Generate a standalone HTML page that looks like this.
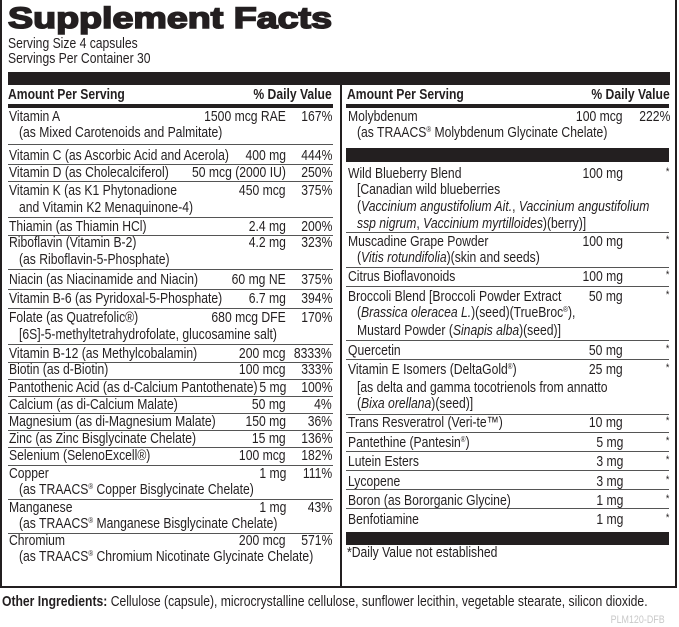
<!DOCTYPE html>
<html><head><meta charset="utf-8"><style>
html,body{margin:0;padding:0;background:#fff;}
#c{position:relative;width:679px;height:627px;overflow:hidden;font-family:"Liberation Sans",sans-serif;color:#231f20;}
.t,.r{position:absolute;font-size:15px;line-height:16px;white-space:nowrap;}
.t{transform:scaleX(0.81);transform-origin:left center;}
.r{transform:scaleX(0.81);transform-origin:right center;text-align:right;}
.b{font-weight:bold;}
.h{position:absolute;background:#231f20;}
.ln{position:absolute;height:1px;background:#555;}
.L{left:8px;width:325px;}
.R{left:346px;width:323px;}
i{font-style:italic;}
sup{font-size:8px;vertical-align:5px;line-height:0;}
</style></head><body><div id="c">
<svg style="position:absolute;left:0;top:0" width="679" height="40"><text x="8" y="28" font-family="Liberation Sans" font-weight="bold" font-size="30" textLength="324" lengthAdjust="spacingAndGlyphs" fill="#231f20" stroke="#231f20" stroke-width="1.6">Supplement Facts</text></svg>
<div class="t" style="left:8px;top:36px">Serving Size 4 capsules</div>
<div class="t" style="left:8px;top:51px">Servings Per Container 30</div>

<div class="h" style="left:0;top:0;width:2px;height:588px"></div>
<div class="h" style="left:675px;top:0;width:2px;height:588px"></div>
<div class="h" style="left:0;top:586px;width:677px;height:2px"></div>
<div class="h" style="left:340px;top:84px;width:2px;height:503px"></div>
<div class="h" style="left:8px;top:72px;width:662px;height:13px"></div>
<div class="h L" style="top:104px;height:4px"></div>
<div class="h R" style="top:104px;height:4px"></div>

<div class="t b" style="left:8px;top:87px">Amount Per Serving</div>
<div class="r b" style="right:347px;top:87px">% Daily Value</div>
<div class="t b" style="left:347px;top:87px">Amount Per Serving</div>
<div class="r b" style="right:9px;top:87px">% Daily Value</div>

<div class="t" style="left:9px;top:109px">Vitamin A</div><div class="r" style="right:393px;top:109px">1500 mcg RAE</div><div class="r" style="right:347px;top:109px">167%</div>
<div class="t" style="left:19px;top:125px">(as Mixed Carotenoids and Palmitate)</div>
<div class="ln L" style="top:144px"></div>
<div class="t" style="left:9px;top:148px">Vitamin C (as Ascorbic Acid and Acerola)</div><div class="r" style="right:393px;top:148px">400 mg</div><div class="r" style="right:347px;top:148px">444%</div>
<div class="ln L" style="top:164px"></div>
<div class="t" style="left:9px;top:165px">Vitamin D (as Cholecalciferol)</div><div class="r" style="right:393px;top:165px">50 mcg (2000 IU)</div><div class="r" style="right:347px;top:165px">250%</div>
<div class="ln L" style="top:181px"></div>
<div class="t" style="left:9px;top:183px">Vitamin K (as K1 Phytonadione</div><div class="r" style="right:393px;top:183px">450 mcg</div><div class="r" style="right:347px;top:183px">375%</div>
<div class="t" style="left:19px;top:200px">and Vitamin K2 Menaquinone-4)</div>
<div class="ln L" style="top:217px"></div>
<div class="t" style="left:9px;top:219px">Thiamin (as Thiamin HCl)</div><div class="r" style="right:393px;top:219px">2.4 mg</div><div class="r" style="right:347px;top:219px">200%</div>
<div class="ln L" style="top:235px"></div>
<div class="t" style="left:9px;top:235px">Riboflavin (Vitamin B-2)</div><div class="r" style="right:393px;top:235px">4.2 mg</div><div class="r" style="right:347px;top:235px">323%</div>
<div class="t" style="left:19px;top:252px">(as Riboflavin-5-Phosphate)</div>
<div class="ln L" style="top:269px"></div>
<div class="t" style="left:9px;top:272px">Niacin (as Niacinamide and Niacin)</div><div class="r" style="right:393px;top:272px">60 mg NE</div><div class="r" style="right:347px;top:272px">375%</div>
<div class="ln L" style="top:289px"></div>
<div class="t" style="left:9px;top:291px">Vitamin B-6 (as Pyridoxal-5-Phosphate)</div><div class="r" style="right:393px;top:291px">6.7 mg</div><div class="r" style="right:347px;top:291px">394%</div>
<div class="ln L" style="top:308px"></div>
<div class="t" style="left:9px;top:310px">Folate (as Quatrefolic®)</div><div class="r" style="right:393px;top:310px">680 mcg DFE</div><div class="r" style="right:347px;top:310px">170%</div>
<div class="t" style="left:19px;top:327px">[6S]-5-methyltetrahydrofolate, glucosamine salt)</div>
<div class="ln L" style="top:344px"></div>
<div class="t" style="left:9px;top:346px">Vitamin B-12 (as Methylcobalamin)</div><div class="r" style="right:393px;top:346px">200 mcg</div><div class="r" style="right:347px;top:346px">8333%</div>
<div class="ln L" style="top:362px"></div>
<div class="t" style="left:9px;top:362px">Biotin (as d-Biotin)</div><div class="r" style="right:393px;top:362px">100 mcg</div><div class="r" style="right:347px;top:362px">333%</div>
<div class="ln L" style="top:379px"></div>
<div class="t" style="left:9px;top:380px">Pantothenic Acid (as d-Calcium Pantothenate)</div><div class="r" style="right:393px;top:380px">5 mg</div><div class="r" style="right:347px;top:380px">100%</div>
<div class="ln L" style="top:396px"></div>
<div class="t" style="left:9px;top:397px">Calcium (as di-Calcium Malate)</div><div class="r" style="right:393px;top:397px">50 mg</div><div class="r" style="right:347px;top:397px">4%</div>
<div class="ln L" style="top:413px"></div>
<div class="t" style="left:9px;top:414px">Magnesium (as di-Magnesium Malate)</div><div class="r" style="right:393px;top:414px">150 mg</div><div class="r" style="right:347px;top:414px">36%</div>
<div class="ln L" style="top:430px"></div>
<div class="t" style="left:9px;top:431px">Zinc (as Zinc Bisglycinate Chelate)</div><div class="r" style="right:393px;top:431px">15 mg</div><div class="r" style="right:347px;top:431px">136%</div>
<div class="ln L" style="top:447px"></div>
<div class="t" style="left:9px;top:448px">Selenium (SelenoExcell®)</div><div class="r" style="right:393px;top:448px">100 mcg</div><div class="r" style="right:347px;top:448px">182%</div>
<div class="ln L" style="top:465px"></div>
<div class="t" style="left:9px;top:466px">Copper</div><div class="r" style="right:393px;top:466px">1 mg</div><div class="r" style="right:347px;top:466px">111%</div>
<div class="t" style="left:19px;top:482px">(as TRAACS<sup>®</sup> Copper Bisglycinate Chelate)</div>
<div class="ln L" style="top:499px"></div>
<div class="t" style="left:9px;top:500px">Manganese</div><div class="r" style="right:393px;top:500px">1 mg</div><div class="r" style="right:347px;top:500px">43%</div>
<div class="t" style="left:19px;top:516px">(as TRAACS<sup>®</sup> Manganese Bisglycinate Chelate)</div>
<div class="ln L" style="top:533px"></div>
<div class="t" style="left:9px;top:533px">Chromium</div><div class="r" style="right:393px;top:533px">200 mcg</div><div class="r" style="right:347px;top:533px">571%</div>
<div class="t" style="left:19px;top:549px">(as TRAACS<sup>®</sup> Chromium Nicotinate Glycinate Chelate)</div>

<div class="t" style="left:348px;top:109px">Molybdenum</div><div class="r" style="right:56px;top:109px">100 mcg</div><div class="r" style="right:9px;top:109px">222%</div>
<div class="t" style="left:357px;top:125px">(as TRAACS<sup>®</sup> Molybdenum Glycinate Chelate)</div>
<div class="h R" style="top:148px;height:14px"></div>
<div class="t" style="left:348px;top:166px">Wild Blueberry Blend</div><div class="r" style="right:56px;top:166px">100 mg</div><div class="r" style="right:10px;top:164px;font-size:11px">*</div>
<div class="t" style="left:357px;top:182px">[Canadian wild blueberries</div>
<div class="t" style="left:357px;top:199px">(<i>Vaccinium angustifolium Ait.</i>, <i>Vaccinium angustifolium</i></div>
<div class="t" style="left:357px;top:216px"><i>ssp nigrum</i>, <i>Vaccinium myrtilloides</i>)(berry)]</div>
<div class="ln R" style="top:232px"></div>
<div class="t" style="left:348px;top:234px">Muscadine Grape Powder</div><div class="r" style="right:56px;top:234px">100 mg</div><div class="r" style="right:10px;top:232px;font-size:11px">*</div>
<div class="t" style="left:357px;top:250px">(<i>Vitis rotundifolia</i>)(skin and seeds)</div>
<div class="ln R" style="top:267px"></div>
<div class="t" style="left:348px;top:269px">Citrus Bioflavonoids</div><div class="r" style="right:56px;top:269px">100 mg</div><div class="r" style="right:10px;top:267px;font-size:11px">*</div>
<div class="ln R" style="top:286px"></div>
<div class="t" style="left:348px;top:289px">Broccoli Blend [Broccoli Powder Extract</div><div class="r" style="right:56px;top:289px">50 mg</div><div class="r" style="right:10px;top:287px;font-size:11px">*</div>
<div class="t" style="left:357px;top:305px">(<i>Brassica oleracea L.</i>)(seed)(TrueBroc<sup>®</sup>),</div>
<div class="t" style="left:357px;top:323px">Mustard Powder (<i>Sinapis alba</i>)(seed)]</div>
<div class="ln R" style="top:340px"></div>
<div class="t" style="left:348px;top:343px">Quercetin</div><div class="r" style="right:56px;top:343px">50 mg</div><div class="r" style="right:10px;top:341px;font-size:11px">*</div>
<div class="ln R" style="top:359px"></div>
<div class="t" style="left:348px;top:362px">Vitamin E Isomers (DeltaGold<sup>®</sup>)</div><div class="r" style="right:56px;top:362px">25 mg</div><div class="r" style="right:10px;top:360px;font-size:11px">*</div>
<div class="t" style="left:357px;top:380px">[as delta and gamma tocotrienols from annatto</div>
<div class="t" style="left:357px;top:396px">(<i>Bixa orellana</i>)(seed)]</div>
<div class="ln R" style="top:414px"></div>
<div class="t" style="left:348px;top:415px">Trans Resveratrol (Veri-te™)</div><div class="r" style="right:56px;top:415px">10 mg</div><div class="r" style="right:10px;top:413px;font-size:11px">*</div>
<div class="ln R" style="top:432px"></div>
<div class="t" style="left:348px;top:435px">Pantethine (Pantesin<sup>®</sup>)</div><div class="r" style="right:56px;top:435px">5 mg</div><div class="r" style="right:10px;top:433px;font-size:11px">*</div>
<div class="ln R" style="top:451px"></div>
<div class="t" style="left:348px;top:454px">Lutein Esters</div><div class="r" style="right:56px;top:454px">3 mg</div><div class="r" style="right:10px;top:452px;font-size:11px">*</div>
<div class="ln R" style="top:470px"></div>
<div class="t" style="left:348px;top:474px">Lycopene</div><div class="r" style="right:56px;top:474px">3 mg</div><div class="r" style="right:10px;top:472px;font-size:11px">*</div>
<div class="ln R" style="top:489px"></div>
<div class="t" style="left:348px;top:493px">Boron (as Bororganic Glycine)</div><div class="r" style="right:56px;top:493px">1 mg</div><div class="r" style="right:10px;top:491px;font-size:11px">*</div>
<div class="ln R" style="top:508px"></div>
<div class="t" style="left:348px;top:512px">Benfotiamine</div><div class="r" style="right:56px;top:512px">1 mg</div><div class="r" style="right:10px;top:510px;font-size:11px">*</div>
<div class="h R" style="top:532px;height:13px"></div>
<div class="t" style="left:347px;top:545px">*Daily Value not established</div>

<div class="t" style="left:2px;top:594px"><b>Other Ingredients:</b> Cellulose (capsule), microcrystalline cellulose, sunflower lecithin, vegetable stearate, silicon dioxide.</div>
<div class="r" style="right:14px;top:612px;font-size:11px;color:#c8c8c8">PLM120-DFB</div>
</div></body></html>
